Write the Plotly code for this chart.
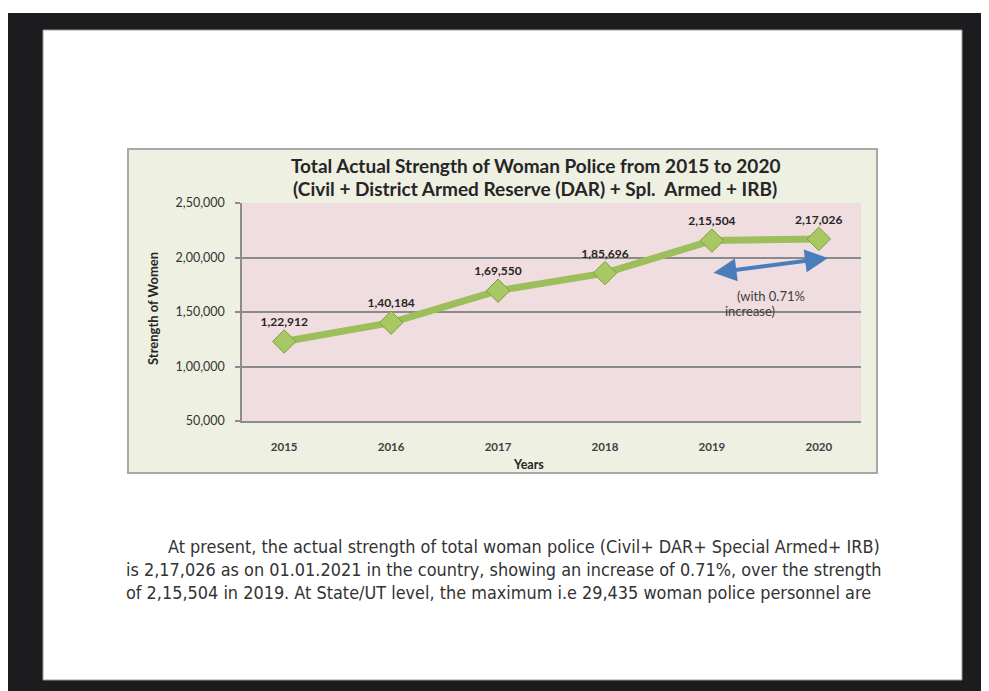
import plotly.graph_objects as go

# ---- data ----
years = ["2015", "2016", "2017", "2018", "2019", "2020"]
strength = [122912, 140184, 169550, 185696, 215504, 217026]
value_labels = ["1,22,912", "1,40,184", "1,69,550", "1,85,696", "2,15,504", "2,17,026"]
y_tickvals = [50000, 100000, 150000, 200000, 250000]
y_ticktext = ["50,000", "1,00,000", "1,50,000", "2,00,000", "2,50,000"]

title_lines = ["Total Actual Strength of Woman Police from 2015 to 2020",
               "(Civil + District Armed Reserve (DAR) + Spl.  Armed + IRB)"]
body_lines = [
    "At present, the actual strength of total woman police (Civil+ DAR+ Special Armed+ IRB)",
    "is 2,17,026 as on 01.01.2021 in the country, showing an increase of 0.71%, over the strength",
    "of 2,15,504 in 2019. At State/UT level, the maximum i.e 29,435 woman police personnel are",
]

OFF = 8                      # browser default body margin
WIN_W, WIN_H = 989, 691
FIG_W, FIG_H = WIN_W - OFF, WIN_H - OFF
L, R, T, B = 242, 861, 203, 421  # plot area in screen pixels


def X(px):
    return (px - L) / (R - L)


def Y(py):
    return (B - py) / (B - T)


CHART_FONT = "Lato, 'Open Sans', sans-serif"
BODY_FONT = "'Liberation Sans Narrow', 'DejaVu Sans Condensed', 'Roboto', sans-serif"

fig = go.Figure()
fig.add_trace(go.Scatter(
    x=years, y=strength, mode="lines+markers+text",
    line=dict(color="#9dbf5b", width=7),
    marker=dict(symbol="diamond", size=18, color="#a8c864",
                line=dict(color="#7f9e40", width=1)),
    text=value_labels, textposition="top center",
    textfont=dict(family=CHART_FONT, size=12, color="#262626", weight="bold"),
    hoverinfo="skip", showlegend=False,
))

shapes = [
    dict(type="rect", xref="paper", yref="paper", layer="below",
         x0=X(8), x1=X(1000), y0=Y(700), y1=Y(13),
         fillcolor="#1c1c1e", line=dict(width=0)),
    dict(type="rect", xref="paper", yref="paper", layer="below",
         x0=X(43), x1=X(962), y0=Y(680), y1=Y(30),
         fillcolor="#ffffff", line=dict(color="#9a9a9a", width=1)),
    dict(type="rect", xref="paper", yref="paper", layer="below",
         x0=X(128), x1=X(877), y0=Y(473), y1=Y(149),
         fillcolor="#eef0e2", line=dict(color="#a8a8a8", width=2)),
    dict(type="rect", xref="paper", yref="paper", layer="below",
         x0=0, x1=1, y0=0, y1=1,
         fillcolor="#f0dde0", line=dict(width=0)),
]

annotations = []
for i, t in enumerate(title_lines):
    annotations.append(dict(
        text=t, xref="paper", yref="paper", x=X(535), y=Y(165 + 23 * i),
        showarrow=False, xanchor="center", yanchor="middle",
        font=dict(family=CHART_FONT, size=19, color="#262626", weight="bold")))

annotations.append(dict(
    text="Strength of Women", xref="paper", yref="paper", x=X(153), y=Y(309),
    textangle=-90, showarrow=False, xanchor="center", yanchor="middle",
    font=dict(family=CHART_FONT, size=13, color="#262626", weight="bold")))

annotations.append(dict(
    text="Years", xref="paper", yref="paper", x=X(528), y=Y(464),
    showarrow=False, xanchor="center", yanchor="middle",
    font=dict(family=CHART_FONT, size=12.5, color="#262626", weight="bold")))

# double-headed arrow
annotations.append(dict(
    xref="paper", yref="paper", axref="pixel", ayref="pixel",
    x=X(828), y=Y(258), ax=712 - 828, ay=273 - 258, text="",
    showarrow=True, arrowhead=2, arrowside="end+start", arrowsize=1.15,
    arrowwidth=4, arrowcolor="#4a7ebb", standoff=0, startstandoff=0))

annotations.append(dict(
    text="(with 0.71%", xref="paper", yref="paper", x=X(735), y=Y(296),
    showarrow=False, xanchor="left", yanchor="middle",
    font=dict(family=CHART_FONT, size=13, color="#404040")))
annotations.append(dict(
    text="increase)", xref="paper", yref="paper", x=X(723), y=Y(311),
    showarrow=False, xanchor="left", yanchor="middle",
    font=dict(family=CHART_FONT, size=13, color="#404040")))

body_x = [166, 124, 124]
for i, t in enumerate(body_lines):
    annotations.append(dict(
        text=t, xref="paper", yref="paper", x=X(body_x[i]), y=Y(546 + 23 * i),
        showarrow=False, xanchor="left", yanchor="middle",
        font=dict(family=BODY_FONT, size=17.9, color="#333333")))

fig.update_layout(
    width=FIG_W, height=FIG_H,
    margin=dict(l=L - OFF, r=OFF + FIG_W - R, t=T - OFF, b=OFF + FIG_H - B, pad=0),
    paper_bgcolor="#ffffff", plot_bgcolor="rgba(0,0,0,0)",
    shapes=shapes, annotations=annotations, showlegend=False,
)
fig.update_xaxes(
    type="category", showgrid=False, zeroline=False,
    showline=True, linecolor="#8c8c8c", linewidth=2, ticks="",
    ticklabelstandoff=14,
    tickfont=dict(family=CHART_FONT, size=11.5, color="#404040", weight="bold"),
)
fig.update_yaxes(
    range=[50000, 250000], tickvals=y_tickvals, ticktext=y_ticktext,
    showgrid=True, gridcolor="#8a8a8a", gridwidth=1.5, zeroline=False,
    showline=True, linecolor="#8c8c8c", linewidth=1.5,
    ticks="outside", ticklen=5, tickcolor="#8c8c8c", tickwidth=1.5,
    ticklabelstandoff=8,
    tickfont=dict(family=CHART_FONT, size=12.5, color="#333333"),
)

fig.write_html("out.html")
